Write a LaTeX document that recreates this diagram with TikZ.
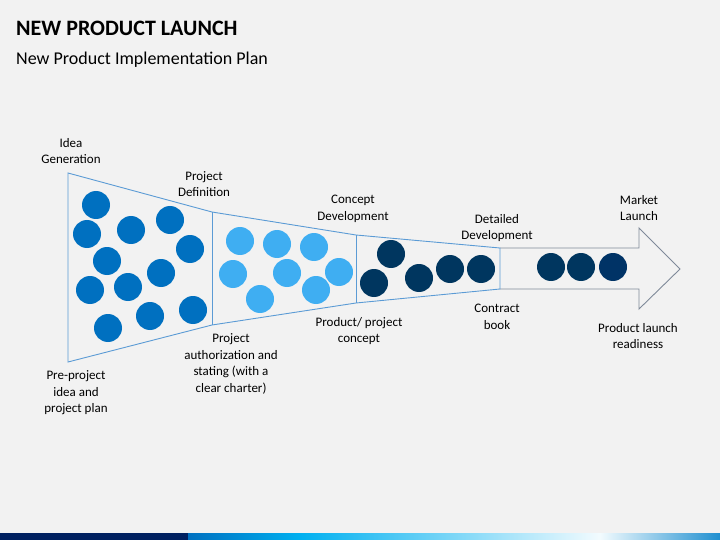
\documentclass[tikz,border=0pt]{standalone}
\usepackage{fontspec}
\setmainfont{Carlito}
\begin{document}
\begin{tikzpicture}[x=1pt,y=-1pt,
  lbl/.style={align=center,font=\fontsize{13}{16.5}\selectfont,text=black,inner sep=0pt},
  c1/.style={circle,fill=dblue,minimum size=28pt,inner sep=0pt},
  c2/.style={circle,fill=lblue,minimum size=28pt,inner sep=0pt},
  c3/.style={circle,fill=navy,minimum size=28pt,inner sep=0pt},
  fun/.style={draw=fblue,line width=0.9pt}]
\definecolor{bg}{HTML}{F2F2F2}
\definecolor{dblue}{HTML}{0070C0}
\definecolor{lblue}{HTML}{3FAEF2}
\definecolor{navy}{HTML}{00365F}
\definecolor{navy2}{HTML}{003366}
\definecolor{fblue}{HTML}{5B9BD5}
\definecolor{agray}{HTML}{7F8A99}
\definecolor{bar1}{HTML}{002060}
\definecolor{bar2}{HTML}{00B0F0}
\definecolor{bar3}{HTML}{1F8FD0}
\fill[bg] (0,0) rectangle (720,540);
\useasboundingbox (0,0) rectangle (720,540);
% bottom bar
\fill[bar1] (0,533) rectangle (188,540);
\shade[left color=dblue,right color=bar2] (188,533) rectangle (300,540);
\shade[left color=bar2,right color=white!95!bar2] (300,533) rectangle (600,540);
\shade[left color=white!95!bar2,right color=bar3] (600,533) rectangle (720,540);
% titles
\node[anchor=west,inner sep=0pt,font=\fontsize{22}{24}\selectfont\bfseries,text=black] (title) at (16,28) {NEW PRODUCT LAUNCH};
\node[anchor=west,inner sep=0pt,font=\fontsize{18}{20}\selectfont,text=black] (sub) at (16,60) {New Product Implementation Plan};
% arrow
\draw[agray,line width=0.9pt,fill=bg] (500,248) -- (639,248) -- (639,228) -- (680,269) -- (639,309) -- (639,289) -- (500,289);
% funnel
\draw[fun] (68,173) -- (212,212) -- (356,235) -- (500,248) -- (500,289) -- (356,303) -- (212,325) -- (68,362) -- cycle;
\draw[fun] (212,212) -- (212,325);
\draw[fun] (356,235) -- (356,303);
% circles
\foreach \p [count=\i] in {(96,205),(87,234),(131,230),(170,220),(190,249),(107,261),(161,273),(90,290),(128,287),(150,316),(193,310),(108,328)}
  \node[c1] (a\i) at \p {};
\foreach \p [count=\i] in {(240,241),(277,244),(314,247),(233,274),(287,273),(339,272),(260,299),(316,290)}
  \node[c2] (b\i) at \p {};
\foreach \p [count=\i] in {(391,254),(374,283),(419,278),(450,269),(481,269),(551,267),(581,267)}
  \node[c3] (d\i) at \p {};
\node[c3,fill=navy2] (d8) at (613,267) {};
% labels
\node[lbl] (l1) at (71,151) {Idea\\Generation};
\node[lbl] (l2) at (204,184) {Project\\Definition};
\node[lbl] (l3) at (353,209) {Concept\\Development};
\node[lbl] (l4) at (497,228) {Detailed\\Development};
\node[lbl] (l5) at (639,208) {Market\\Launch};
\node[lbl] (m1) at (76,393) {Pre-project\\idea and\\project plan};
\node[lbl] (m2) at (231,364) {Project\\authorization and\\stating (with a\\clear charter)};
\node[lbl] (m3) at (359,331) {Product/ project\\concept};
\node[lbl] (m4) at (497,317) {Contract\\book};
\node[lbl] (m5) at (638,336) {Product launch\\readiness};
\end{tikzpicture}
\end{document}
